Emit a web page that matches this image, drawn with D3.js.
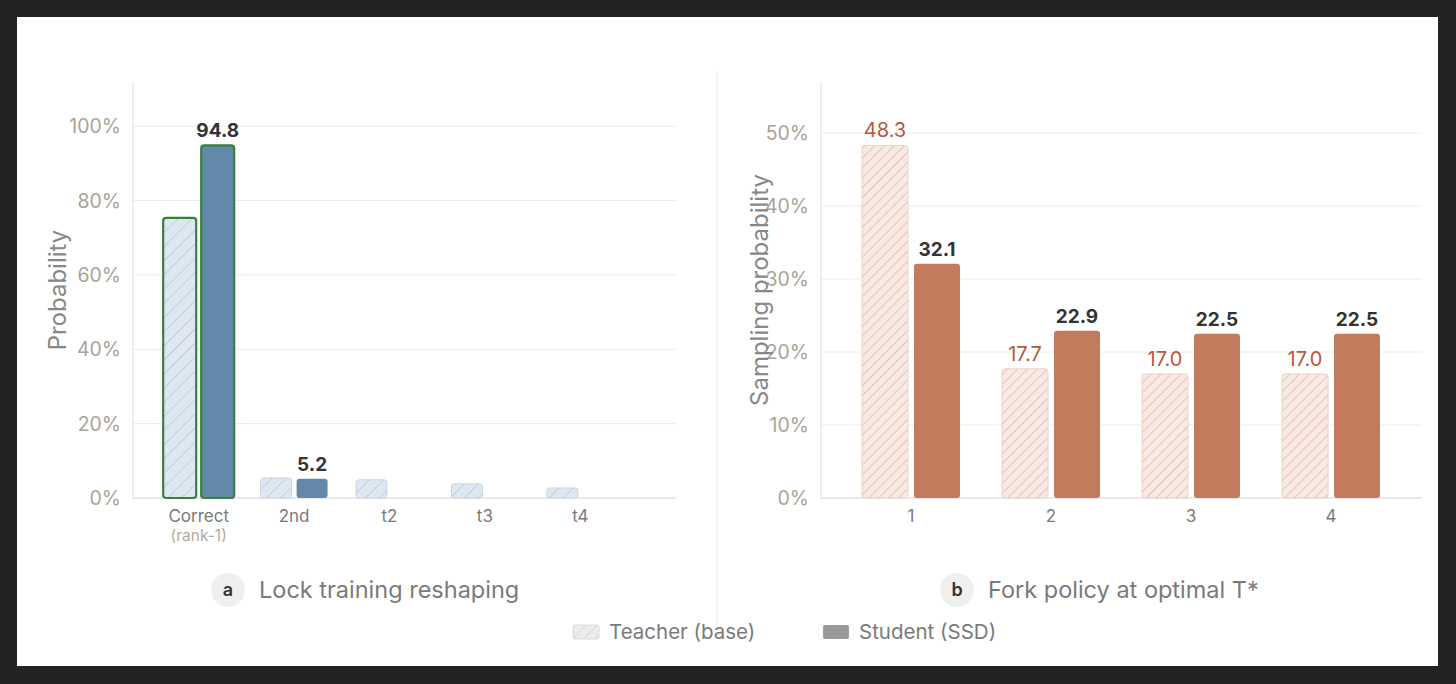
<!DOCTYPE html>
<html><head><meta charset="utf-8">
<script src="https://cdn.jsdelivr.net/npm/d3@7"></script>
<style>
html,body{margin:0;padding:0;background:#232323;}
svg{display:block;font-family:Inter,"Noto Sans",sans-serif;}
</style></head><body>
<script>
// ---- data ----
const catsA = ["Correct","2nd","t2","t3","t4"];
const catsASub = ["(rank-1)","","","",""];
const teacherA = [75.3, 5.4, 4.9, 3.8, 2.7];
const studentA = [94.8, 5.2, null, null, null];
const labelA = [94.8, 5.2, null, null, null];
const ticksA = [0,20,40,60,80,100];

const catsB = ["1","2","3","4"];
const teacherB = [48.3, 17.7, 17.0, 17.0];
const studentB = [32.1, 22.9, 22.5, 22.5];
const ticksB = [0,10,20,30,40,50];

const W = 1456, H = 684;
const svg = d3.select("body").append("svg").attr("width", W).attr("height", H);
svg.append("rect").attr("x",17).attr("y",17).attr("width",1421).attr("height",649).attr("fill","#fff");

const defs = svg.append("defs");
function hatch(id, bg, line, size, sw){
  const p = defs.append("pattern").attr("id",id).attr("patternUnits","userSpaceOnUse")
    .attr("width",size).attr("height",size).attr("patternTransform","rotate(45)");
  p.append("rect").attr("width",size).attr("height",size).attr("fill",bg);
  p.append("line").attr("x1",0).attr("y1",0).attr("x2",0).attr("y2",size).attr("stroke",line).attr("stroke-width",sw);
}
hatch("hA","#dfe8f1","#b7c8da",10,1.6);
hatch("hB","#f7e9e3","#e2b4a2",7,1.4);
hatch("hL","#ececec","#cfcfcf",8,1.4);

const y0 = 498, yTop = 82;
const tickColor = "#aaa397";

function panel(opts){
  const g = svg.append("g");
  const y = d3.scaleLinear().domain([0, d3.max(opts.all)*1.18]).range([y0, yTop]);
  const x = d3.scaleBand().domain(opts.cats).range(opts.xr).padding(0);
  g.selectAll("line.grid").data(opts.ticks.filter(d=>d>0)).join("line")
    .attr("x1",opts.ax).attr("x2",opts.gx).attr("y1",d=>y(d)).attr("y2",d=>y(d))
    .attr("stroke","#ececec").attr("stroke-width",1);
  g.append("line").attr("x1",opts.ax).attr("x2",opts.ax).attr("y1",yTop).attr("y2",y0).attr("stroke","#dedede");
  g.append("line").attr("x1",opts.ax).attr("x2",opts.gx).attr("y1",y0).attr("y2",y0).attr("stroke","#d4d4d4");
  g.selectAll("text.tick").data(opts.ticks).join("text")
    .attr("x",opts.ax-12).attr("y",d=>y(d)).attr("dy","0.36em").attr("text-anchor","end")
    .attr("font-size",19.5).attr("fill",tickColor).text(d=>d+"%");
  g.append("text").attr("transform",`translate(${opts.titleX},${opts.titleY}) rotate(-90)`)
    .attr("text-anchor","middle").attr("font-size",24).attr("fill","#888").text(opts.title);
  const bw = opts.bw, gap = opts.gap;
  opts.cats.forEach((c,i)=>{
    const cx = x(c) + x.bandwidth()/2;
    const tv = opts.teacher[i], sv = opts.student[i];
    const hl = opts.highlight && i===0;
    const w = hl ? bw+2 : bw;
    if (tv!=null) g.append("rect").attr("x",cx-gap/2-w).attr("y",y(tv)).attr("width",w).attr("height",y0-y(tv))
      .attr("rx",3).attr("fill",`url(#${opts.pat})`)
      .attr("stroke",hl?"#3b7f3f":opts.tStroke).attr("stroke-width",hl?2.2:1);
    if (sv!=null) g.append("rect").attr("x",cx+gap/2).attr("y",y(sv)).attr("width",w).attr("height",y0-y(sv))
      .attr("rx",3).attr("fill",opts.sFill)
      .attr("stroke",hl?"#3b7f3f":"none").attr("stroke-width",hl?2.2:0);
    if (opts.sLabel[i]!=null) g.append("text").attr("x",cx+gap/2+w/2).attr("y",y(sv)-8)
      .attr("text-anchor","middle").attr("font-size",19).attr("font-weight",700).attr("fill","#333")
      .text(opts.sLabel[i].toFixed(1));
    if (opts.tLabel && opts.tLabel[i]!=null) g.append("text").attr("x",cx-gap/2-w/2).attr("y",y(tv)-8)
      .attr("text-anchor","middle").attr("font-size",20).attr("fill","#b5593c")
      .text(opts.tLabel[i].toFixed(1));
    g.append("text").attr("x",cx).attr("y",522).attr("text-anchor","middle")
      .attr("font-size",17).attr("fill","#7a7a7a").text(c);
    if (opts.sub && opts.sub[i]) g.append("text").attr("x",cx).attr("y",541).attr("text-anchor","middle")
      .attr("font-size",15.5).attr("fill","#b3aa9c").text(opts.sub[i]);
  });
  g.append("circle").attr("cx",opts.badgeX).attr("cy",590).attr("r",17).attr("fill","#efefef");
  g.append("text").attr("x",opts.badgeX).attr("y",590).attr("dy","0.35em").attr("text-anchor","middle")
    .attr("font-size",18).attr("font-weight",600).attr("fill","#333").text(opts.badge);
  g.append("text").attr("x",opts.badgeX+31).attr("y",590).attr("dy","0.35em")
    .attr("font-size",23.5).attr("fill","#7a7a7a").text(opts.ptitle);
}

panel({cats:catsA, sub:catsASub, teacher:teacherA, student:studentA, sLabel:labelA,
  all:teacherA.concat(studentA.filter(d=>d!=null)), ticks:ticksA,
  ax:133, gx:676, xr:[151,628], bw:31, gap:5, pat:"hA", tStroke:"#c8d6e4", sFill:"#6389aa",
  highlight:true, title:"Probability", titleX:66, titleY:290, badge:"a", badgeX:228, ptitle:"Lock training reshaping"});

panel({cats:catsB, teacher:teacherB, student:studentB, sLabel:studentB, tLabel:teacherB,
  all:teacherB.concat(studentB), ticks:ticksB,
  ax:821, gx:1422, xr:[841,1401], bw:46, gap:6, pat:"hB", tStroke:"#ecd3c8", sFill:"#c27b5d",
  highlight:false, title:"Sampling probability", titleX:768, titleY:290, badge:"b", badgeX:957, ptitle:"Fork policy at optimal T*"});

svg.append("line").attr("x1",717).attr("x2",717).attr("y1",71).attr("y2",625).attr("stroke","#e4e4e4");

const lg = svg.append("g");
lg.append("rect").attr("x",573).attr("y",625).attr("width",26).attr("height",14).attr("rx",2).attr("fill","url(#hL)").attr("stroke","#dcdcdc");
lg.append("text").attr("x",609).attr("y",632).attr("dy","0.36em").attr("font-size",20.5).attr("fill","#7a7a7a").text("Teacher (base)");
lg.append("rect").attr("x",823).attr("y",625).attr("width",26).attr("height",14).attr("rx",2).attr("fill","#9a9a9a");
lg.append("text").attr("x",859).attr("y",632).attr("dy","0.36em").attr("font-size",20.5).attr("fill","#7a7a7a").text("Student (SSD)");
</script>
</body></html>
